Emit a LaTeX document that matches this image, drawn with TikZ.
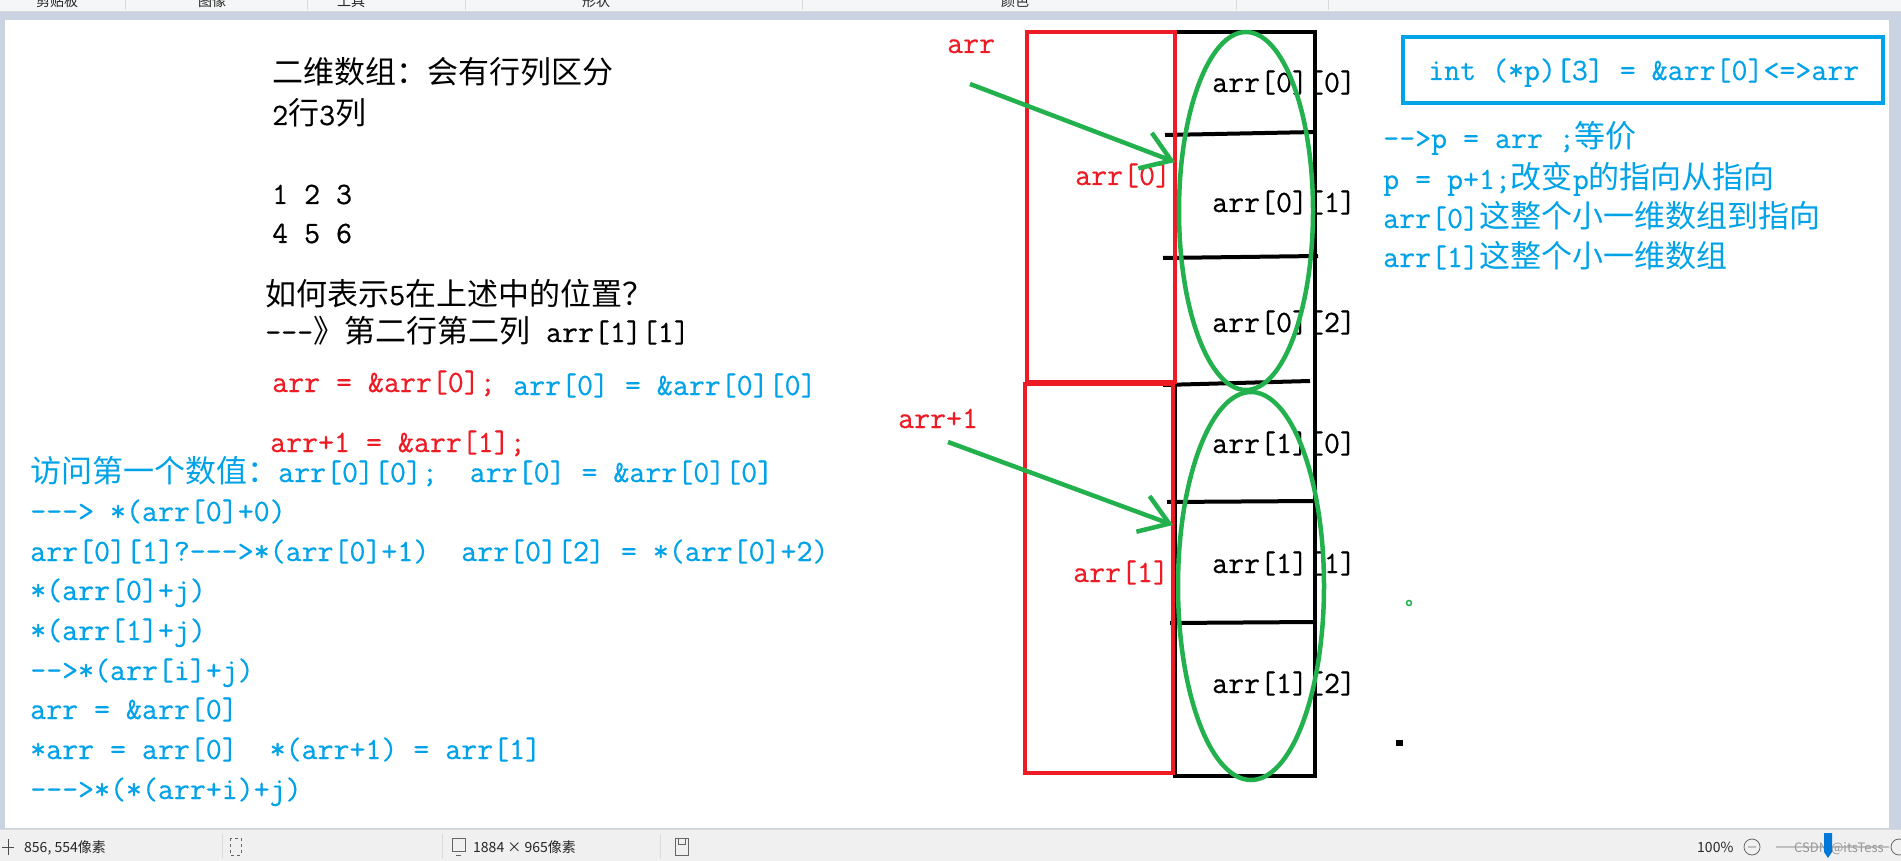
\documentclass[tikz,border=0pt]{standalone}
\usepackage{fontspec}
\usepackage{xcolor}
\usepackage{tikz}
\usetikzlibrary{arrows.meta, positioning, calc}
\newfontfamily\cjk{Noto Sans CJK SC}
\newfontfamily\codefont{Latin Modern Mono}[FakeBold=0.5]
\definecolor{pred}{RGB}{237,28,36}
\definecolor{pgreen}{RGB}{34,177,76}
\definecolor{pblue}{RGB}{0,162,232}
\definecolor{pframe}{RGB}{201,211,226}
\definecolor{pbar}{RGB}{245,246,247}
\definecolor{pstatus}{RGB}{240,240,240}
\definecolor{psep}{RGB}{218,218,218}
\definecolor{pthumb}{RGB}{0,120,215}
\newcommand{\zh}[1]{{\cjk\fontsize{31}{31}\selectfont #1}}
\tikzset{
  note/.style={anchor=base west, inner sep=0pt, font=\codefont\fontsize{31}{31}\selectfont},
  blacknote/.style={note, text=black},
  rednote/.style={note, text=pred},
  bluenote/.style={note, text=pblue},
  rowbox/.style={rectangle, draw=pred, line width=4.5pt, minimum width=148pt, inner sep=0pt},
  declbox/.style={rectangle, draw=pblue, line width=4.5pt, minimum width=480pt, minimum height=66pt, inner sep=0pt},
  colbox/.style={draw=black, line width=4.5pt},
  divider/.style={draw=black, line width=4pt},
  ring/.style={draw=pgreen, line width=4.5pt},
  pointer/.style={-{Straight Barb[length=28pt, width=38pt]}, line width=4.5pt, color=pgreen},
  uitext/.style={anchor=base west, inner sep=0pt, font=\cjk\fontsize{14}{14}\selectfont, text=black!85},
  uisep/.style={draw=psep, line width=1pt}
}

\begin{document}
\begin{tikzpicture}[x=1pt, y=-1pt]
  \useasboundingbox (0,0) rectangle (1901,861);
  \clip (0,0) rectangle (1901,861);

  % Window frame, toolbar and canvas
  \fill[pframe] (0,0) rectangle (1901,861);
  \fill[white] (5,20) rectangle (1889,828);
  \fill[pbar] (0,0) rectangle (1901,12);
  \draw[uisep] (0,12) -- (1901,12);
  \draw[uisep] (125,0) -- (125,10);
  \draw[uisep] (307,0) -- (307,10);
  \draw[uisep] (465,0) -- (465,10);
  \draw[uisep] (802,0) -- (802,10);
  \draw[uisep] (1236,0) -- (1236,10);
  \draw[uisep] (1328,0) -- (1328,10);
  \node[uitext] (tbclip) at (36,7) {剪贴板};
  \node[uitext] (tbimage) at (198,7) {图像};
  \node[uitext] (tbtools) at (337,7) {工具};
  \node[uitext] (tbshapes) at (582,7) {形状};
  \node[uitext] (tbcolors) at (1001,7) {颜色};

  % Left notes
  \node[blacknote] (title) at (272,84) {\zh{二维数组：会有行列区分}};
  \node[blacknote] (dims) at (272,125) {2\zh{行}3\zh{列}};
  \node[blacknote] (rowa) at (272,204) {1 2 3};
  \node[blacknote] (rowb) at (272,243) {4 5 6};
  \node[blacknote] (ask) at (265,305) {\zh{如何表示}5\zh{在上述中的位置？}};
  \node[blacknote] (answer) at (265,342) {-{}-{}-\zh{》第二行第二列} arr[1][1]};
  \node[rednote] (eqa) at (272,392) {arr = \&arr[0];};
  \node[bluenote] (eqb) at (513,395) {arr[0] = \&arr[0][0]};
  \node[rednote] (eqc) at (270,452) {arr+1 = \&arr[1];};

  % Access notes
  \node[bluenote] (acc0) at (30,482) {\zh{访问第一个数值：}arr[0][0];~~arr[0] = \&arr[0][0]};
  \node[bluenote] (acc1) at (30,521) {-{}-{}-> *(arr[0]+0)};
  \node[bluenote] (acc2) at (30,561) {arr[0][1]?-{}-{}->*(arr[0]+1)~~arr[0][2] = *(arr[0]+2)};
  \node[bluenote] (acc3) at (30,600) {*(arr[0]+j)};
  \node[bluenote] (acc4) at (30,640) {*(arr[1]+j)};
  \node[bluenote] (acc5) at (30,680) {-{}->*(arr[i]+j)};
  \node[bluenote] (acc6) at (30,719) {arr = \&arr[0]};
  \node[bluenote] (acc7) at (30,759) {*arr = arr[0]~~*(arr+1) = arr[1]};
  \node[bluenote] (acc8) at (30,799) {-{}-{}->*(*(arr+i)+j)};

  % Cells of the array
  \node[blacknote] (c00) at (1212,92) {arr[0][0]};
  \node[blacknote] (c01) at (1212,212) {arr[0][1]};
  \node[blacknote] (c02) at (1212,332) {arr[0][2]};
  \node[blacknote] (c10) at (1212,453) {arr[1][0]};
  \node[blacknote] (c11) at (1212,573) {arr[1][1]};
  \node[blacknote] (c12) at (1212,693) {arr[1][2]};
  \draw[colbox] (1175,32) rectangle (1315,776);
  \draw[divider] (1165,135) -- (1315,132);
  \draw[divider] (1163,258) -- (1318,256);
  \draw[divider] (1163,385) -- (1310,381);
  \draw[divider] (1167,502) -- (1315,501);
  \draw[divider] (1170,623) -- (1315,622);

  % Rows (red)
  \node[rowbox, minimum height=350pt] (row0) at (1101,207) {};
  \node[rowbox, minimum height=389pt] (row1) at (1099,578.5) {};
  \node[rednote] (lblarr) at (947,53) {arr};
  \node[rednote] (lblrow0) at (1075,185) {arr[0]};
  \node[rednote] (lblarrp) at (898,428) {arr+1};
  \node[rednote] (lblrow1) at (1073,582) {arr[1]};

  % Rings round each row
  \draw[ring] (1246,211) ellipse [x radius=67pt, y radius=179pt];
  \draw[ring] (1251,586) ellipse [x radius=73pt, y radius=194pt];

  % Pointers
  \coordinate (tail0) at (970,84);
  \coordinate (head0) at (1175,162);
  \coordinate (tail1) at (948,442);
  \coordinate (head1) at (1173,525);
  \draw[pointer] (tail0) -- (head0);
  \draw[pointer] (tail1) -- (head1);

  % Right notes
  \node[declbox] (decl) at (1643,70) {};
  \node[bluenote] (decltext) at (1428,80) {int (*p)[3] = \&arr[0]<=>arr};
  \node[bluenote] (same) at (1383,148) {-{}->p = arr ;\zh{等价}};
  \node[bluenote] (step1) at (1383,189) {p = p+1;\zh{改变}p\zh{的指向从指向}};
  \node[bluenote] (step2) at (1383,228) {arr[0]\zh{这整个小一维数组到指向}};
  \node[bluenote] (step3) at (1383,267) {arr[1]\zh{这整个小一维数组}};
  \draw[pgreen, line width=1.5pt] (1409,603) circle (2.5pt);
  \fill[black] (1396,740) rectangle (1403,746);

  % Status bar
  \fill[pstatus] (0,830) rectangle (1901,861);
  \draw[uisep] (0,829.5) -- (1901,829.5);
  \draw[black!70, line width=1pt] (2,847) -- (14,847) (8,839) -- (8,855);
  \node[uitext] (pos) at (24,852) {856, 554像素};
  \draw[uisep] (222,834) -- (222,858);
  \draw[black!60, dashed, line width=0.8pt] (230,838) rectangle (241,855);
  \draw[uisep] (442,834) -- (442,858);
  \draw[black!60, line width=0.8pt] (452,838) rectangle (465,851) (456,855) -- (461,855);
  \node[uitext] (size) at (473,852) {1884 × 965像素};
  \draw[uisep] (660,834) -- (660,858);
  \draw[black!60, line width=0.8pt] (675,838) rectangle (688,855) (678,838) rectangle (685,844);
  \node[uitext] (zoomlvl) at (1697,852) {100\%};
  \draw[black!60, line width=0.8pt] (1752,847) circle (8pt) (1748,847) -- (1756,847);
  \draw[black!25, line width=2pt] (1776,847) -- (1889,847);
  \node[uitext, text=black!40, font=\cjk\fontsize{13}{13}\selectfont] (mark) at (1794,852) {CSDN @itsTess};
  \fill[pthumb] (1824,833) -- (1832,833) -- (1832,852) -- (1828,858) -- (1824,852) -- cycle;
  \draw[black!60, line width=0.8pt] (1899,847) circle (8pt);
\end{tikzpicture}
\end{document}
